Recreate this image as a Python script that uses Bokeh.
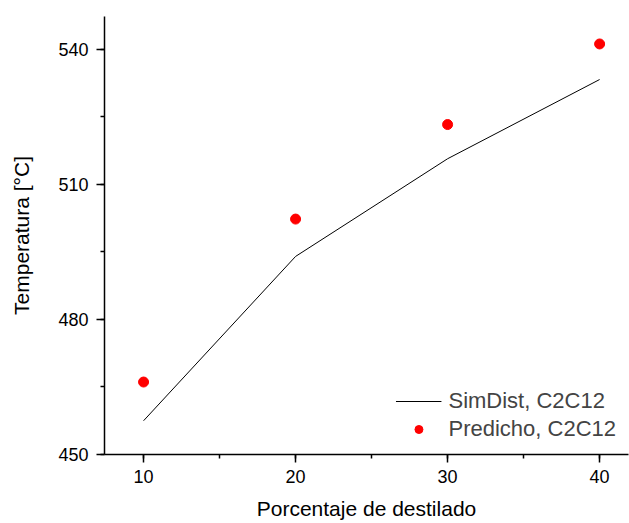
from bokeh.plotting import figure
from bokeh.models import SingleIntervalTicker, Legend, LegendItem, Range1d
from bokeh.embed import file_html
from bokeh.resources import INLINE

porcentaje = [10, 20, 30, 40]
simdist = [457.5, 494.0, 515.7, 533.3]
predicho = [466.1, 502.3, 523.3, 541.2]

FONT = "Liberation Sans"

p = figure(width=629, height=523, output_backend="svg", toolbar_location=None,
           x_range=Range1d(7.43, 41.9), y_range=Range1d(450, 547.3),
           min_border_left=104, min_border_right=1, min_border_top=16, min_border_bottom=69)
p.outline_line_color = None
p.xgrid.visible = False
p.ygrid.visible = False

r_line = p.line(porcentaje, simdist, line_color="black", line_width=1)
r_pts = p.scatter(porcentaje, predicho, size=10, fill_color="#ff0000", line_color="#ff0000")

p.xaxis.ticker = SingleIntervalTicker(interval=10, num_minor_ticks=2)
p.yaxis.ticker = SingleIntervalTicker(interval=30, num_minor_ticks=2)

for ax in (p.xaxis[0], p.yaxis[0]):
    ax.axis_line_width = 1.5
    ax.major_tick_line_width = 1.5
    ax.minor_tick_line_width = 1.5
    ax.major_tick_out = 8
    ax.major_tick_in = 0
    ax.minor_tick_out = 4
    ax.minor_tick_in = 0
    ax.major_label_text_font = FONT
    ax.major_label_text_font_size = "18px"
    ax.major_label_text_color = "black"
    ax.axis_label_text_font = FONT
    ax.axis_label_text_font_size = "21px"
    ax.axis_label_text_font_style = "normal"
    ax.axis_label_text_color = "black"

p.xaxis.axis_label = "Porcentaje de destilado"
p.yaxis.axis_label = "Temperatura [°C]"
p.xaxis.major_label_standoff = 7
p.yaxis.major_label_standoff = 8
p.xaxis.axis_label_standoff = 11
p.yaxis.axis_label_standoff = 22

legend = Legend(items=[LegendItem(label="SimDist, C2C12", renderers=[r_line]),
                       LegendItem(label="Predicho, C2C12", renderers=[r_pts])],
                location="bottom_right")
legend.border_line_color = None
legend.background_fill_alpha = 0
legend.label_text_font = FONT
legend.label_text_font_size = "22px"
legend.glyph_width = 46
legend.label_standoff = 7
legend.spacing = 2
legend.margin = 12
legend.padding = 5
p.add_layout(legend)

open("out.html", "w").write(file_html(p, INLINE))
